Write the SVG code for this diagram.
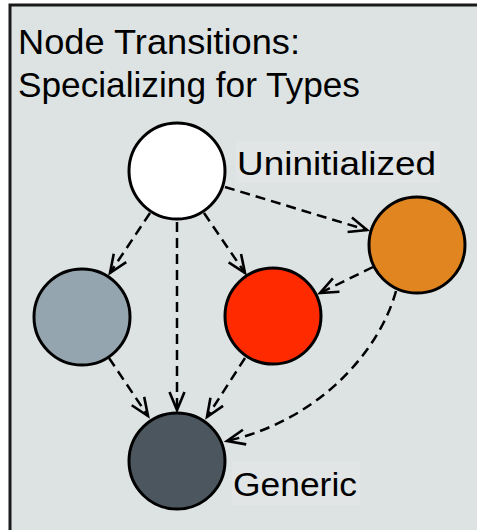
<svg xmlns="http://www.w3.org/2000/svg" width="477" height="530" viewBox="0 0 477 530">
<defs>
<style>
.txt{font-family:"Liberation Sans",Arial,sans-serif;fill:#000}
.node{stroke:#000;stroke-width:3}
.edge{fill:none;stroke:#000;stroke-width:2.5;stroke-dasharray:10 6}
.lbl{fill:#e1e5e6}
</style>
<marker id="arr" markerUnits="userSpaceOnUse" markerWidth="24" markerHeight="24" refX="18" refY="7.5" orient="auto" overflow="visible">
<path d="M0,0 L18,7.5 L0,15" fill="none" stroke="#000" stroke-width="2.6" stroke-dasharray="none"/>
</marker>
</defs>
<rect x="10" y="5" width="480" height="540" fill="#dde3e3" stroke="#1a1a1a" stroke-width="3"/>
<g id="title">
<text class="txt" x="18" y="54" font-size="35" textLength="282" lengthAdjust="spacingAndGlyphs">Node Transitions:</text>
<text class="txt" x="18" y="97" font-size="35" textLength="342" lengthAdjust="spacingAndGlyphs">Specializing for Types</text>
</g>
<g id="connectors">
<path class="edge" d="M150,213 L110,273" marker-end="url(#arr)"/>
<path class="edge" d="M177,222 L177,410" marker-end="url(#arr)"/>
<path class="edge" d="M204,213 L245,273" marker-end="url(#arr)"/>
<path class="edge" d="M225,187 L367,230" marker-end="url(#arr)"/>
<path class="edge" d="M373,267 L320,293" marker-end="url(#arr)"/>
<path class="edge" d="M396,291 C380,350 320,420 227,441" marker-end="url(#arr)"/>
<path class="edge" d="M109,358 L148,416" marker-end="url(#arr)"/>
<path class="edge" d="M245,358 L207,417" marker-end="url(#arr)"/>
</g>
<g id="uninitialized">
<circle class="node" cx="177" cy="171" r="48" fill="#ffffff"/>
<rect class="lbl" x="236" y="141" width="204" height="42"/>
<text class="txt" x="237" y="175" font-size="33" textLength="199" lengthAdjust="spacingAndGlyphs">Uninitialized</text>
</g>
<g id="orange">
<circle class="node" cx="417" cy="245" r="48" fill="#e08520"/>
</g>
<g id="grey">
<circle class="node" cx="82" cy="317" r="48" fill="#95a5af"/>
</g>
<g id="red">
<circle class="node" cx="273" cy="316" r="48" fill="#ff2a00"/>
</g>
<g id="generic">
<circle class="node" cx="177" cy="461" r="48" fill="#4b565f"/>
<rect class="lbl" x="232" y="462" width="128" height="43"/>
<text class="txt" x="233" y="496" font-size="33" textLength="124" lengthAdjust="spacingAndGlyphs">Generic</text>
</g>
</svg>
